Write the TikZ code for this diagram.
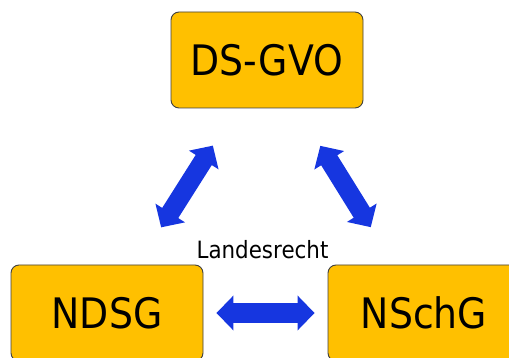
\documentclass[tikz,border=0pt]{standalone}
\usepackage{fontspec}
\setmainfont[FakeStretch=0.9]{DejaVu Sans}
\usepackage{xcolor}
\usepackage{tikz}
\usetikzlibrary{arrows.meta}

\definecolor{laworange}{RGB}{255,192,0}
\definecolor{lawblue}{RGB}{22,54,224}

\begin{document}
\begin{tikzpicture}[x=1pt,y=-1pt,
  lawbox/.style={draw=black!75,line width=0.9pt,fill=laworange,rounded corners=8pt,
    minimum width=192pt,minimum height=96pt,inner sep=0pt,
    font=\fontsize{42}{42}\selectfont},
  lawlink/.style={lawblue,line width=19pt,<->}]
\useasboundingbox (0,0) rectangle (509,358);
\clip (0,0) rectangle (509,358);

    \node[lawbox] (dsgvo) at (267,60) {DS-GVO};
    \node[lawbox] (ndsg) at (107,313) {NDSG};
    \node[lawbox] (nschg) at (424,313) {NSchG};
    \node[anchor=base,font=\fontsize{23.8}{25}\selectfont] (land) at (262.5,259) {Landesrecht};

\begin{scope}[>={Triangle[width=34pt,length=17pt]}]
    \draw[lawlink,shorten <=13pt,shorten >=13pt] (ndsg) -- (nschg);
    \draw[lawlink,shorten <=44pt,shorten >=44pt] (ndsg) -- (dsgvo);
    \draw[lawlink,shorten <=44pt,shorten >=44pt] (nschg) -- (dsgvo);
\end{scope}
\end{tikzpicture}
\end{document}
